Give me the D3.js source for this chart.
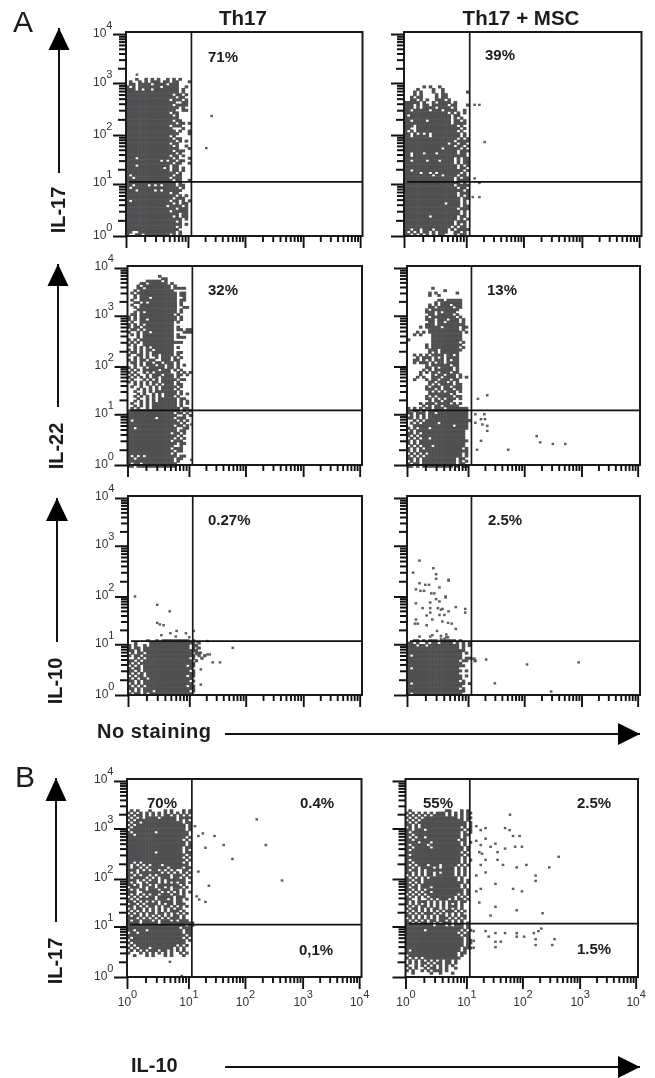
<!DOCTYPE html>
<meta charset="utf-8">
<title>IL-17, IL-22, IL-10 flow cytometry</title>
<style>
  body { margin: 0; background: #fff; }
  svg { display: block; filter: blur(0.35px); }
  text { font-family: "Liberation Sans", Arial, sans-serif; fill: #1c1c1c; }
</style>
<body>
<script src="https://d3js.org/d3.v7.min.js"></script>
<script>
// Occupied channels: one string per row, one char per 0.05 decade,
// '#' = dot present. Rows run downwards from the top log10 value given in the panel table.
const cellsA1 = [
"...#..#.#.#..#.#.#...",".#..#.#.###.##.##...#",".##.####.####.###....","#.#.#######.#####..#.","###.#.##.########.#..",
"#################.#..","###############.##.#.","################.##..","##############.###.#.","################..##.",
"###############.####.","#################.#..","################..##","##############.##....","###############.#....",
"#################....","###############.##...","################.##.#","##############.###...","###############...#.",
"################.#..#","#################...#","##############.#.....","###############.##...","################.#.#.",
"##############.##....","###############.#..#","#################...#","###############.###..","################.#...",
"##############.##.#.","###.###########.#...#","###########.#.##.##..","###############.##..#","###.##########.##....",
"############.#.##.#..","##############.##.#.","################.#...","#.#############.##...","##.###########.###...",
"###############.##..#","################.#...","##.####.#.#.####.##..","#.###############.#..","###.#####.#.######...",
"##############.##....","################.#.#.","###############.###..","#.############.##.#.#","###############.#.##.",
"#############.####.#.","################.###.","##############.#####.","#################.##.","###############.#.##.",
"##################.#.","################.#...","##################.#.","################.#...","#################....",
"##..############.#...","#..##.########.#.#..."];
const cellsA2 = [
"......#.#..#.........","....#....#..#........","...#.#...#..#.......#","...#.#....#.##.......","..#.##....#.##.......",
"..##.#.#..###.#......","#####.#..#.####.#....","###.#.##.#####.##...#","###.#.####.####.#....","##.#####.###.####..#.",
"##############.#.#.#.","#.#############.##...","###############.#.#..","##.####.#######.##.#.","###############.####.",
"###.#############.#..","##..##############.#.","#.#.#############.#..","##.#.#.#.#########.#.","##.#####.#########.#.",
"#################.#.#","################.####","##############.##.##.","################.##.#","############.#####.#.",
"#################.###","##.###.###.######.##.","##.#################.","################.#.##","##.####.###.####.#.##",
"################.#.##","#################.#.#","#################.##.","##.################.#","#####.##.#.#######.#.",
"#########.##.####.##.","################.#.##","################.####","##################.#.","################.####",
"#################.##.","###################.#","#################.###","#################.#.#","##################.##",
"##################.#.","#############.####.#.","##################.##","#################.###","##################.#.",
"##################.#.","########.########.##.","#################.#.#","################.###.","################.#.#.",
"###############.#.##.","##.##.###.####.#.####","#.#.#.##.#.###..##.#.","##.#.#.#.#.##...#.##."];
const cellsA3 = [
"..........#..........","...........##........","......#####.#........","....##.######.#......","...#.#########.#.....",
"...##.########.####..","..#.###########......",".#.#############.##..","..#.############.##..","..#.###.########..#..",
".#..############.##..","..##.#.#########.#...",".#..############.#...","..#.############..##.","...#############.#...",
"..#.#.##########.#...",".##.###########.#....","#.#.############.#...","#.#.##.#########.#...",".#..###########.#....",
"#.#.#.#########......","#.##.##########.#....",".##.#.#########.##.##","#..#.##.#######...###",".#.#.##########.#....",
"...#.##########.###..","#.#.###########......",".#.#.#############...","#.#..##########......","..#.#.#.#######.#....",
"#.#.#.##.######......",".##.#.#.#######.##...","#..##.#.##.####.#....","..#.#.#..#.###.#.#...","#.#.##.##..###.##....",
".##.#.##.##.###.#....","..#.#.###.##.##.#.#..","#.#..#.#####.##.#....",".#.#.#####.###.#.#...","#.#..#.#.#####..#.#.#",
".#.#..#.###.###.##.#.","#.#.#.#.##.####.#....",".#...#.#.#.#####.##..","#.#.#.#.##.####.#....","..#.#.#.#.#.###.##...",
".#..#..#.#.#####.#...","...#.#.#.#.####.#....","..#..#.#.#######.#...","...#.#..#.#.####.#.#.","..#.#.#.#.#.###.#....",
"...#..#.#.######.##..","..#.#.#.#.######.#.#.",".#..#.#.########.#.#.","..#.#.#.########.#...",".#.#..#.#########.##.",
"#################.#.#","###############.##.#.","################..#.#","#########.#####.###..","#.##############.#.#.",
"#################.#..","###############.##.#.","##.#############..##.","################.##..","##############.##.#.",
"################.#...","###############.#.#..","##############.###...","################.##..","###############..#...",
"##############.###...","###############.##...","##############.#.....","#.#.#.##########.##..","##.############.##...",
"###############.#....","#.##.###########.....","##.#############....."];
const cellsA4 = [
"........#............","............#........",".......#.#......#....",".......#..#..........",".....................",
"..........##.#####",".........#.#######",".......#.#.###.###",".......##.#####.##","......#.#########",
"......###.#.####",".......##.#####.#","......#.########.#","......###.###.###.#",".......##.##.####.#",
"......###.#########.","....#.#####.#####.##",".......##########.#","...#.#.###########.#","..#.#...##########",
"........##########","#.......##########","........#########.#","......#.##########","......#.#########.#",
".......###.#######",".......#.#.######","..#.#.#.####.##.#","...#.###.#.#.####","..##.#.#.###.#.##",
"..#.###.#.##.####","......#.######.##","......##.#.####.#",".....#.#.######.#","....#.#.##.###.##",
"....#...#.##.###.#","...#.#..###.####.#.#","..#...#.##.###.##",".......##.###.#.#",".......#.#.####.##",
"......#.###.##.###","......###.#.###.##",".......#.#.#.###.#",".......#######.#","......#.#.#####.##",
"......##.#.#.###.#",".......#.##.###","....#.###.####.#.#",".....#.#.##.#####","#.#.#.##.###.#######",
"#.##.#.#############","##.###.##.##########",".#.#.#.#############","##.#.#.#############","..#.#.###############",
".#.#.#####.#########","..#############.####","#.#.###.############",".#.################.","##.#.##############",
"#.#.###############",".#.#.##.###########","#.#.################","#.#.###############.",".#.#.###.##########",
"#.#.#.############.#","#.#.################",".#.#.#.###########.#","#.#.#.############.#","##.#.###########.##",
".#.#.###########.#.#","#.##.###########.##","##.#.##########.#.##"];
const cellsA5 = [
"......#..#.#########.#","..#....###############.#","#.#..#.#############.##","#.##.###############.#.#","##.#.##################",
".#.##.###############.##","#.##.#################.#.#","..#.#.##############.#..#","##.#.################.#","#.#.##################",
".#.#.##############.##","#.##.################.","##.#.###############.#","#.#.#.################",".#.##.#############.##",
"#.#.##.##############","##.#.###############.#",".#.#.################","#.#.#.#############.##","##.#.#################",
".#.#.###.###########.#","#.##.#.##############"];
const cellsA6 = [
"..##.#.###.#####.#....","##.#..#.##.####.#.#.#","###.##.##########.#.#","#################.#","###################",
"##################.#","#.################","##################.##","#################.##..#.","##################",
"###################","#.###############","##################.#","#################","##################.#",
"##################","#################.#","#.#################.#","##################","#################.#",
"###################","#.################"];
const cellsB1 = [
".#.#...#....#.#...#.#","#.#.#.#.#.#.#.#.#.#.#",".#.##.#.#.#.##.#.#.#.","#.#.#.####.#####.####",".#.#############.#.#",
"#.##.#############.##",".#.################.#","#.#################.#",".##################.#","#.#######.##########",
"##.#################","###################.#","##################.#","###################.#","###################.#",
"##################.##","##################.#.","#########.########.##","###################.#","##################.#.",
"###################.#","##.#.#############.#","#.#.#.#.###.########","#.##.#.######.####.##","###.#.#.##.#.#.#..##",
"#.#.#######.#.#.#.#.#","##.#.##.#.####.###.#","#.####.#.#.###.##.#.#","###.#.#.##.#.######","#.#..#.###.#.#.#.##.#",
"##.#.##.#.#######.#",".###.#.##.##.#.###.#","#.#.##.###.###.##.#","###..######.#.#.#.#.#","#.#.#.#.##.###.##.#",
".#.#.#.##.#####.###","#.#.#####.###.#.##.#","##.#.#.#.#.####.##",".##.#.####.#.##.###","##.#.#.##.#.##.#.#.#",
".#.##.#.#.#.#.#.##","#.#.#.#.#.#.#.###.#",".#.#.#.##.##.#.#.#.#","#.##.#.#.#.#.#.##.#","###.#.#.#.#.#.###.#",
"#.##.###.#.###.#.###","####.#####.###########","###################.##","#################.###","##.###.###########.##",
".##.##############.##","###################.#","#.################.#",".##################.#","#.#################",
".#.#############.#.#","#.#.###.#######.#.#",".#.#.#.###.##.#.#.#","#...#.#.#.#.#.#..#.#","..#...#.#...#.#...#"];
const cellsB2 = [
".#...........##...#.#","#.#.#.#.#.###.#.#.#.##",".#.#.#.#.####.#.#.#.#","#.#.#.###########.#.##",".#.#.##############.#",
"#.#.################.#","##.#.###############.#",".#.#.#############.#.#","##.###.############.##","#.################.#.#",
"##.###############.##","#.#.##.###########.#.","##.##############.##","####.###.#########.#.#","#.#####.##########.#.",
"##.#####.##########.#","#.#################.#","##################.#","#.#################.#","##################.#",
"#.################.#.#","##.###############.#","#.#.###.###.#####.#.#","##.#.####.#.####.#.#","#.##.#.#########.#.#",
"##.#.#.##.#.####.#.#",".#.#.#.##.######.#.#","#.#.#.#.#########.#","##.##.###########.#.#","#.#.#.#############.#",
"##.#.#############.#","#.##.###.#########.#.","##.#.#.############.#","#.#.#.##.##########.#",".#.#.#.##########.#.#",
"#.#.#.#.########.#.#","##..#..#.#.###.#.##.#","#.#.###.#.#.#.###.##","#.#.#.#.#.#.#.#.#.#",".#.#.##.#.#.#.###.#",
"#.##.#.#.##.#.#.#.#",".#.#.#.#.#.#.###.#.#","#.#.#.###.#.#.#.#.#","##.#.#.#.#.##.#.#.##",".#.#.#.#.#.###.#.#.#",
"#.#.#.#.##.##.#.#.#","##.#.##.#.#.###.#.#.#","#########.###.#.###.#","###################.#","######.###########.#.#",
"#################.#.#","##################.##","###################.#","###################.##","###################.##",
"###################.#","##################.###","#.################.#","#################.##",".################.#",
"#.#.#.############.",".#.#.#.#.#.#.##.#",".#.#.##.#.##.##.#","#..#.#.#.#.#.#.#",".#.#..#.##.#.#..#","#.#..#.#.###.#..","..#.....#..#...#"];

// Isolated events, [x, y] in fluorescence units
const dotsA1 = [[26,232],[21,54],[1.5,1480]];
const dotsA2 = [[14,380],[17,380],[21,72],[17,10.5],[14,13],[17,5.6],[13,5.6]];
const dotsA3 = [[11,6.3],[11,1.26]];
const dotsA4 = [[15,21],[22,25],[19.5,10],[20,8],[17,8],[18,6.3],[22,5.9],[22,4.7],[13.5,6.8],[13.5,10],[17,3],[14.5,2],[52,2],[165,3.7],[190,2.8],[316,2.6],[520,2.6]];
const dotsA5 = [[1.3,100],[3,67],[4.8,49],[3,28],[3.3,26],[3.8,25],[3.5,15.5],[4.9,17],[6.2,19],[8.8,17],[12,19],[10,14],[6,14.5],[16,6.8],[21,6.3],[23,6.3],[59,8.5],[14,11],[21,11.7],[26,4.4],[35,4.4],[16,3.2],[16,1.6],[14,8.5],[14,6.3]];
const dotsA6 = [[1.6,510],[2.7,360],[1.26,295],[3,275],[3,224],[4.8,214],[4.8,205],[1.6,182],[2,170],[2.3,170],[3.4,151],[1.4,138],[1.66,129],[1.9,129],[2.5,115],[2.8,115],[4.3,100],[4.3,95],[3,88],[1.4,72],[2.4,75],[3.4,79],[6.3,60],[1.8,57],[2.4,57],[3.2,57],[3.6,53],[3.8,55],[4.8,49],[9,55],[9,46],[2.4,46],[2.1,40],[3.4,41],[4.1,41],[1.4,33],[2.6,33],[1.35,27],[1.5,27],[3.8,30],[4.7,28],[5.4,27],[2.1,25],[6.3,21],[2.6,15.5],[3.1,19],[3.6,15],[4.4,16],[4.4,14],[2.4,14.5],[3.6,13],[4.1,13],[4.7,14],[1.6,14.5],[12,5.2],[13,5.2],[21,5],[112,4],[890,4.4],[30,1.7],[295,1.17]];
const dotsB1 = [[160,1560],[230,470],[440,93],[60,250],[42,470],[29,710],[20,415],[18,800],[15,710],[13,1120],[15,140],[23,72],[14,43],[20,33],[15.5,37],[5,2],[7.8,1.05]];
const dotsB2 = [[60,1950],[15,1120],[18,930],[22,1020],[49,1020],[59,930],[68,710],[89,710],[22,630],[15,570],[18,470],[27,435],[33,500],[49,400],[74,435],[98,435],[36,340],[17,340],[19,316],[22,240],[36,240],[18,190],[45,190],[79,170],[117,190],[430,275],[295,170],[170,117],[170,91],[15,117],[22,135],[33,79],[15,55],[18,62],[68,62],[98,55],[17,32],[33,26],[27,17],[79,22],[225,19],[13.5,8.1],[22,8.1],[25,6.3],[33,7.4],[49,7.4],[79,7.4],[79,6.3],[107,6.3],[158,7.4],[190,8.1],[214,9.1],[170,5.6],[170,4.3],[363,5.6],[331,4.3],[33,5],[41,5],[33,3.9],[13.5,5.2],[13.5,3.8]];

const gatesX = [11.5,11.5,11.5,11.5,11.5,11.5,11.5,11.5];
const gatesY = [11,11,12,12,11.6,11.6,11,11.5];
const decades = [1, 10, 100, 1000, 10000];
const columnTitles = ["Th17", "Th17 + MSC"];
const rowLabels = ["IL-17", "IL-22", "IL-10", "IL-17"];
const percents = ["71%","39%","32%","13%","0.27%","2.5%","70%","0.4%","0,1%","55%","2.5%","1.5%"];

const width = 655;
const height = 1078;
const cellLog = 0.05;
// fraction of the frame where each decade tick sits
const xFrac = [0, 0.262, 0.503, 0.749, 0.99];
const yFrac = [0, 0.255, 0.495, 0.75, 0.99];

const panels = [
  {l:126,   r:362.5, t:32,  b:236, cells:cellsA1, top:3.1,  dots:dotsA1, xl:false, yl:true},
  {l:404,   r:641.5, t:32,  b:236, cells:cellsA2, top:2.95, dots:dotsA2, xl:false, yl:false},
  {l:127.5, r:362,   t:266, b:465, cells:cellsA3, top:3.85, dots:dotsA3, xl:false, yl:true},
  {l:407,   r:640,   t:266, b:465, cells:cellsA4, top:3.6,  dots:dotsA4, xl:false, yl:false},
  {l:128,   r:362,   t:496, b:695, cells:cellsA5, top:1.1,  dots:dotsA5, xl:false, yl:true},
  {l:407,   r:640,   t:496, b:695, cells:cellsA6, top:1.1,  dots:dotsA6, xl:false, yl:false},
  {l:127,   r:361.5, t:779, b:977, cells:cellsB1, top:3.4,  dots:dotsB1, xl:true,  yl:true},
  {l:405.5, r:638,   t:779, b:977, cells:cellsB2, top:3.4,  dots:dotsB2, xl:true,  yl:false}
];

const svg = d3.select("body").append("svg")
  .attr("width", width)
  .attr("height", height);

const logTicks = [];
decades.slice(0, 4).forEach(d => d3.range(1, 10).forEach(m => logTicks.push(m * d)));
logTicks.push(10000);
const isDecade = v => decades.includes(v);
const tickLen = v => isDecade(v) ? 13 : (String(v)[0] === "2" ? 8 : 7);

// writes "10" with a raised exponent on the decade ticks, blanks the rest
function decadeLabels(sel) {
  sel.selectAll(".tick text").each(function(v) {
    const t = d3.select(this).text("");
    if (!isDecade(v)) return;
    t.append("tspan").text("10");
    t.append("tspan").attr("dy", -8).style("font-size", "11px").text(Math.round(Math.log10(v)));
  });
}

panels.forEach((p, i) => {
  const w = p.r - p.l, h = p.b - p.t;
  const x = d3.scaleLog().domain(decades).range(xFrac.map(f => p.l + f * w));
  const y = d3.scaleLog().domain(decades).range(yFrac.map(f => p.b - f * h));

  // dense part of the plot
  const g = svg.append("g").attr("fill", "#505052");
  p.cells.forEach((row, r) => {
    const lo = p.top - r * cellLog;
    row.split("").forEach((c, k) => {
      if (c !== "#") return;
      const xa = x(Math.pow(10, k * cellLog)), xb = x(Math.pow(10, (k + 1) * cellLog));
      const ya = y(Math.pow(10, lo)), yb = y(Math.pow(10, lo - cellLog));
      g.append("rect").attr("x", xa - 0.25).attr("y", ya - 0.25)
        .attr("width", xb - xa + 0.5).attr("height", yb - ya + 0.5);
    });
  });

  svg.append("g").attr("fill", "#5e5e60").selectAll("rect")
    .data(p.dots)
    .enter()
    .append("rect")
    .attr("x", d => x(d[0]) - 1.3)
    .attr("y", d => y(d[1]) - 1.2)
    .attr("width", 2.6)
    .attr("height", 2.4);

  // gates
  svg.append("line").attr("x1", x(gatesX[i])).attr("x2", x(gatesX[i]))
    .attr("y1", p.t).attr("y2", p.b).attr("stroke", "#1a1a1a").attr("stroke-width", 1.7);
  svg.append("line").attr("x1", p.l + 3).attr("x2", p.r)
    .attr("y1", y(gatesY[i])).attr("y2", y(gatesY[i])).attr("stroke", "#111").attr("stroke-width", 1.7);

  svg.append("rect").attr("x", p.l).attr("y", p.t).attr("width", w).attr("height", h)
    .attr("fill", "none").attr("stroke", "#1a1a1a").attr("stroke-width", 2);

  const yAxis = svg.append("g")
    .attr("transform", "translate(" + p.l + ",0)")
    .call(d3.axisLeft(y).tickValues(logTicks).tickFormat(""));
  yAxis.select(".domain").remove();
  yAxis.selectAll(".tick line").attr("x2", v => -tickLen(v)).attr("stroke", "#111").attr("stroke-width", 2);
  yAxis.selectAll(".tick text").attr("x", -33).attr("dy", 2).attr("text-anchor", "start")
    .style("font-size", "12px").style("fill", "#333");
  if (p.yl) yAxis.call(decadeLabels); else yAxis.selectAll(".tick text").remove();

  const xAxis = svg.append("g")
    .attr("transform", "translate(0," + p.b + ")")
    .call(d3.axisBottom(x).tickValues(logTicks).tickFormat(""));
  xAxis.select(".domain").remove();
  xAxis.selectAll(".tick line").attr("y2", v => isDecade(v) ? 12 : 6).attr("stroke", "#111").attr("stroke-width", 1.9);
  xAxis.selectAll(".tick text").attr("y", 29).attr("dy", 0).attr("text-anchor", "middle")
    .style("font-size", "12px").style("fill", "#333");
  if (p.xl) xAxis.call(decadeLabels); else xAxis.selectAll(".tick text").remove();
});

function label(txt, px, py, size, weight) {
  return svg.append("text").attr("x", px).attr("y", py)
    .style("font-size", size + "px").style("font-weight", weight).text(txt);
}

label("A", 13, 32, 30, "normal");
label("B", 15, 787, 30, "normal");
label(columnTitles[0], 243, 25, 20.5, "bold").attr("text-anchor", "middle");
label(columnTitles[1], 521, 25, 20.5, "bold").attr("text-anchor", "middle");

// percent labels: start x, baseline
[[208,62],[485,60],[208,295],[487,295],[208,525],[488,525],[147,808],[300,808],[299,955],[423,808],[577,808],[577,954]]
  .forEach((pos, i) => label(percents[i], pos[0], pos[1], 15, "bold"));

// rotated marker names
[[65,210],[63,446],[62,681],[62,961]].forEach((pos, i) => {
  svg.append("text")
    .attr("transform", "translate(" + pos[0] + "," + pos[1] + ") rotate(-90)")
    .attr("text-anchor", "middle")
    .style("font-size", "20px").style("font-weight", "bold")
    .text(rowLabels[i]);
});

label("No staining", 97, 738, 20, "bold").style("letter-spacing", "0.5px");
label("IL-10", 131, 1072, 20, "bold");

// axis arrows: x1,y1 tail, then tip, half head width, head length
function arrow(x1, y1, x2, y2, half, len) {
  svg.append("line").attr("x1", x1).attr("y1", y1).attr("x2", x2).attr("y2", y2)
    .attr("stroke", "#111").attr("stroke-width", 2);
  const vert = x1 === x2;
  const pts = vert
    ? [[x2, y2], [x2 - half, y2 + len], [x2 + half, y2 + len]]
    : [[x2, y2], [x2 - len, y2 - half], [x2 - len, y2 + half]];
  svg.append("polygon").attr("points", pts.join(" ")).attr("fill", "#000");
}
arrow(59, 173, 59, 28, 10.5, 22);
arrow(58, 407, 58, 264, 10.5, 22);
arrow(57, 642, 57, 498, 11, 23);
arrow(56, 922, 56, 778, 10.5, 23);
arrow(225, 734, 640, 734, 11, 22);
arrow(225, 1067, 640, 1067, 11, 22);
</script>
</body>
